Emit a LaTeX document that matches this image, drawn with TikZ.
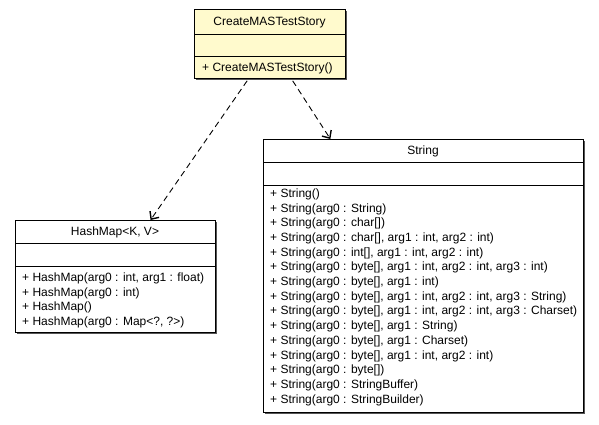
\documentclass[tikz,border=0pt]{standalone}
\usepackage{fontspec}
\setmainfont{Liberation Sans}
\usetikzlibrary{arrows.meta,calc,shadows}
\definecolor{classyellow}{RGB}{255,250,205}
\definecolor{shadowgray}{RGB}{85,85,85}
\begin{document}
\begin{tikzpicture}[x=1pt,y=-1pt,
  classbox/.style={draw=black, line width=0.8pt, inner sep=0pt, anchor=north west,
    drop shadow={shadow xshift=1.5pt, shadow yshift=-1.5pt, fill=shadowgray, opacity=1}},
  sepline/.style={draw=black, line width=0.8pt},
  clstitle/.style={font=\fontsize{12}{14}\selectfont, inner sep=0pt, anchor=base},
  clsmember/.style={font=\fontsize{12}{14}\selectfont, inner sep=0pt, anchor=base west},
  dep/.style={draw=black, line width=0.9pt, dash pattern=on 6pt off 4pt,
    -{Straight Barb[length=6pt,width=11pt,line width=1.4pt]}}]
\useasboundingbox (0,0) rectangle (599,424);

% CreateMASTestStory
\node[classbox, fill=classyellow, minimum width=151pt, minimum height=69pt] (cms) at (194,9) {};
\draw[sepline] (194,34) -- (345,34);
\draw[sepline] (194,56) -- (345,56);
\node[clstitle] (cmst) at (269.5,25.3) {CreateMASTestStory};
\node[clsmember] (cmsm) at (202,71.3) {+ CreateMASTestStory()};

% HashMap
\node[classbox, fill=white, minimum width=200pt, minimum height=112pt] (hm) at (15,220) {};
\draw[sepline] (15,243) -- (215,243);
\draw[sepline] (15,266) -- (215,266);
\node[clstitle] (hmt) at (115,235.3) {HashMap<K, V>};
\foreach \t [count=\i] in {{+ HashMap(arg0 : int, arg1 : float)},{+ HashMap(arg0 : int)},{+ HashMap()},{+ HashMap(arg0 : Map<?, ?>)}}
  \node[clsmember] (hmm\i) at (22,{281.3+14.7*(\i-1)}) {\t};

% String
\node[classbox, fill=white, minimum width=320pt, minimum height=273pt] (str) at (263,139) {};
\draw[sepline] (263,162) -- (583,162);
\draw[sepline] (263,185) -- (583,185);
\node[clstitle] (strt) at (423,154.3) {String};
\foreach \t [count=\i] in {{+ String()},{+ String(arg0 : String)},{+ String(arg0 : char[])},{+ String(arg0 : char[], arg1 : int, arg2 : int)},{+ String(arg0 : int[], arg1 : int, arg2 : int)},{+ String(arg0 : byte[], arg1 : int, arg2 : int, arg3 : int)},{+ String(arg0 : byte[], arg1 : int)},{+ String(arg0 : byte[], arg1 : int, arg2 : int, arg3 : String)},{+ String(arg0 : byte[], arg1 : int, arg2 : int, arg3 : Charset)},{+ String(arg0 : byte[], arg1 : String)},{+ String(arg0 : byte[], arg1 : Charset)},{+ String(arg0 : byte[], arg1 : int, arg2 : int)},{+ String(arg0 : byte[])},{+ String(arg0 : StringBuffer)},{+ String(arg0 : StringBuilder)}}
  \node[clsmember] (strm\i) at (270,{197.3+14.7*(\i-1)}) {\t};

% dependencies
\draw[dep] ($(cms.south west)!0.35!(cms.south east)+(0,2)$) -- ($(hm.north west)!0.675!(hm.north east)$);
\draw[dep] ($(cms.south west)!0.65!(cms.south east)+(0,2)$) -- ($(str.north west)!0.21!(str.north east)$);
\end{tikzpicture}
\end{document}
